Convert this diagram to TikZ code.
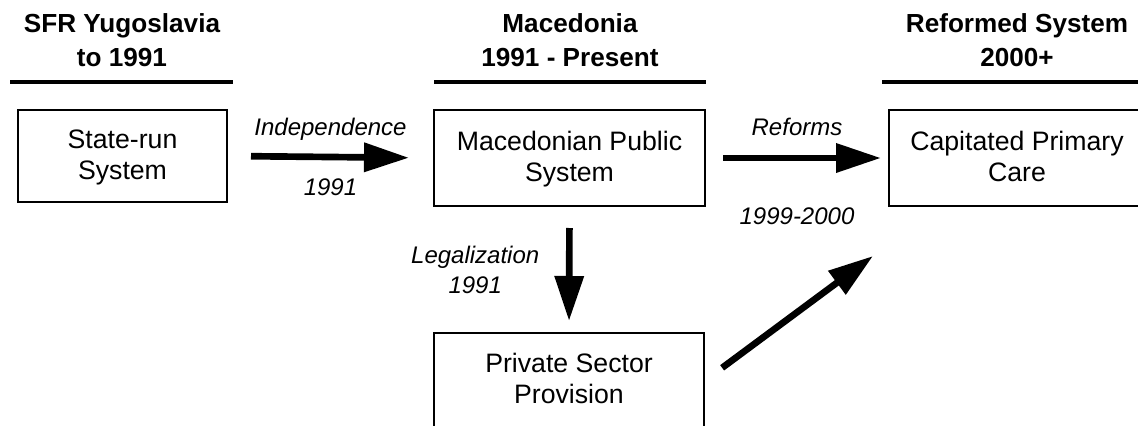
\documentclass[tikz,border=0pt]{standalone}
\usepackage{fontspec}
\setmainfont{Liberation Sans}
\usepackage{xcolor}
\usepackage{tikz}
\usetikzlibrary{arrows.meta, positioning, calc}

\begin{document}
\begin{tikzpicture}[x=0.75pt,y=-0.75pt,%
  box/.style={draw,rectangle,black,line width=1.5pt,align=center,inner sep=0pt,font=\fontsize{20pt}{22.9pt}\selectfont,text height=34.5pt,text depth=0pt},%
  hdr/.style={black,align=center,inner sep=0pt,font=\fontsize{19.6pt}{25pt}\selectfont\bfseries,text height=31.5pt,text depth=0pt},%
  lbl/.style={black,align=center,inner sep=0pt,font=\fontsize{18pt}{22.5pt}\selectfont\itshape},%
  bigarrow/.style={draw,black,line width=5pt,-{Triangle[length=33.75pt,width=21pt]}},%
  rule/.style={draw,black,line width=3.2pt}]%
\useasboundingbox (0,0) rectangle (1138,425);%
\node[hdr] (hdyugo) at (122,45) {SFR Yugoslavia\\to 1991};%
\node[hdr] (hdmaced) at (570,45) {Macedonia\\1991 - Present};%
\node[hdr] (hdreform) at (1017,45) {Reformed System\\2000+};%
\draw[rule] (10,82) -- (233,82);%
\draw[rule] (434,82) -- (706,82);%
\draw[rule] (882,82) -- (1145,82);%
\node[box,minimum width=156.75pt,minimum height=69pt] (state) at (122.5,156) {State-run\\System};%
\node[box,minimum width=203.25pt,minimum height=72pt] (macpub) at (569.5,158) {Macedonian Public\\System};%
\node[box,minimum width=192pt,minimum height=72pt] (capcare) at (1017,158) {Capitated Primary\\Care};%
\node[box,minimum width=202.5pt,minimum height=71.25pt] (private) at (569,380.5) {Private Sector\\Provision};%
\coordinate (reformtip) at (873,256);%
\draw[bigarrow,shorten <=17.25pt,shorten >=18pt] (state.east) -- node[lbl,above=9.75pt] {Independence} node[lbl,below=14pt] {1991} (macpub.west);%
\draw[bigarrow,shorten <=12.75pt,shorten >=5.25pt] (macpub.east) -- node[lbl,above=14.5pt] {Reforms} node[lbl,below=35pt] {1999-2000} (capcare.west);%
\draw[bigarrow,shorten <=15.75pt,shorten >=8.25pt] (macpub.south) -- node[lbl,left=20pt] {Legalization\\1991} (private.north);%
\draw[bigarrow,shorten <=16pt] (private.east) -- (reformtip);%
\end{tikzpicture}
\end{document}
